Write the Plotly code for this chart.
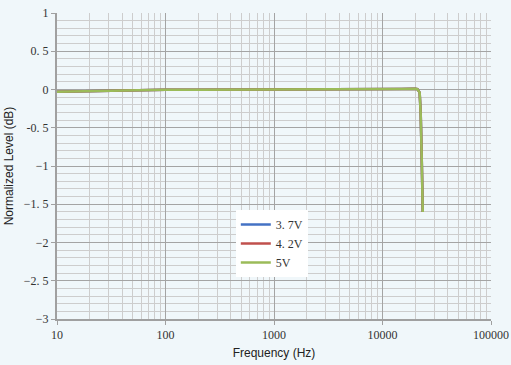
import plotly.graph_objects as go

freq = [10, 15, 20, 30, 50, 100, 200, 500, 1000, 2000, 5000, 10000, 15000, 20000, 21000, 22000, 22500, 23000, 23500]
v37 = [-0.03, -0.025, -0.018, -0.012, -0.006, -0.004, -0.003, -0.002, -0.002, -0.002, -0.002, 0.003, 0.008, 0.01, 0.004, -0.04, -0.32, -0.92, -1.6]
v42 = [-0.03, -0.025, -0.018, -0.012, -0.006, -0.004, -0.003, -0.002, -0.002, -0.002, -0.002, 0.003, 0.008, 0.01, 0.004, -0.04, -0.32, -0.92, -1.6]
v5 = [-0.03, -0.025, -0.018, -0.012, -0.006, -0.004, -0.003, -0.002, -0.002, -0.002, -0.002, 0.003, 0.008, 0.01, 0.004, -0.04, -0.32, -0.92, -1.6]

series = [("3. 7V", v37, "#4472c4"), ("4. 2V", v42, "#c0504d"), ("5V", v5, "#9bbb59")]

xticks = [10, 100, 1000, 10000, 100000]
xticktext = ["10", "100", "1000", "10000", "100000"]
yticks = [1, 0.5, 0, -0.5, -1, -1.5, -2, -2.5, -3]
yticktext = ["1", "0. 5", "0", "-0. 5", "\u22121", "\u22121. 5", "\u22122", "\u22122. 5", "\u22123"]

fig = go.Figure()
for name, vals, col in series:
    fig.add_trace(go.Scatter(x=freq, y=vals, mode="lines", name=name,
                             line=dict(color=col, width=2.5)))

bg = "#f0f7fa"
fig.update_layout(
    width=511, height=365,
    margin=dict(l=57, r=20, t=13, b=46, autoexpand=False),
    paper_bgcolor=bg, plot_bgcolor=bg,
    font=dict(family="Liberation Serif", size=12, color="#333333"),
    legend=dict(x=0.412, y=0.356, xanchor="left", yanchor="top",
                bgcolor="white", font=dict(family="Liberation Serif", size=12, color="#333333"),
                tracegroupgap=0, itemwidth=30),
    showlegend=True,
)
fig.update_xaxes(
    type="log", range=[1, 5], automargin=False,
    tickvals=xticks, ticktext=xticktext,
    showgrid=True, gridcolor="#a4a4a4", gridwidth=1,
    minor=dict(showgrid=True, gridcolor="#cdcdcd", gridwidth=1, ticks="", dtick="D1"),
    ticks="outside", ticklen=4, tickcolor="#a0a0a0",
    showline=True, linecolor="#a0a0a0", linewidth=2,
    zeroline=False,
    title=dict(text="Frequency (Hz)", font=dict(family="Liberation Sans", size=12, color="#222222"), standoff=7),
    tickfont=dict(family="Liberation Serif", size=12),
)
fig.update_yaxes(
    range=[-3, 1], automargin=False,
    tickvals=yticks, ticktext=yticktext,
    showgrid=True, gridcolor="#a4a4a4", gridwidth=1,
    minor=dict(showgrid=True, gridcolor="#cdcdcd", gridwidth=1, dtick=0.1, ticks=""),
    ticks="outside", ticklen=4, tickcolor="#a0a0a0",
    showline=True, linecolor="#a0a0a0", linewidth=2,
    zeroline=False,
    title=dict(text="Normalized Level (dB)", font=dict(family="Liberation Sans", size=12, color="#222222"), standoff=8),
    tickfont=dict(family="Liberation Serif", size=12),
)
fig.write_html("out.html", config={"displayModeBar": False},
               post_script="document.body.style.margin='0';document.body.style.background='%s';" % bg)
